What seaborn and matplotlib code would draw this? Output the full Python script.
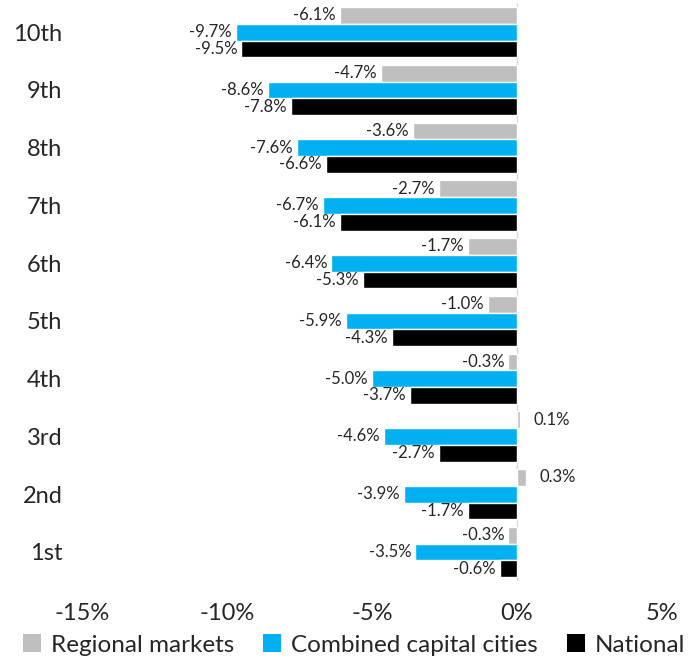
import matplotlib
matplotlib.use("Agg")
import matplotlib.pyplot as plt
import seaborn as sns
import pandas as pd
from matplotlib.patches import Patch

categories = ["10th", "9th", "8th", "7th", "6th", "5th", "4th", "3rd", "2nd", "1st"]
regional = [-6.1, -4.7, -3.6, -2.7, -1.7, -1.0, -0.3, 0.1, 0.3, -0.3]
capitals = [-9.7, -8.6, -7.6, -6.7, -6.4, -5.9, -5.0, -4.6, -3.9, -3.5]
national = [-9.5, -7.8, -6.6, -6.1, -5.3, -4.3, -3.7, -2.7, -1.7, -0.6]
series_names = ["Regional markets", "Combined capital cities", "National"]
colors = ["#BFBFBF", "#00B0F0", "#000000"]
xticks = [-15, -10, -5, 0, 5]

sns.set_style("white")
plt.rcParams["font.family"] = ["Lato", "DejaVu Sans"]

rows = []
for name, vals in zip(series_names, [regional, capitals, national]):
    for c, v in zip(categories, vals):
        rows.append({"cat": c, "series": name, "value": v})
df = pd.DataFrame(rows)

fig = plt.figure(figsize=(6.94, 6.63), dpi=100)
ax = fig.add_axes([0.118, 0.124, 0.836, 0.871])
sns.barplot(data=df, x="value", y="cat", hue="series", order=categories,
            hue_order=series_names, palette=colors, width=0.87,
            orient="h", ax=ax, legend=False, saturation=1)

ax.set_xlim(-15, 5)
ax.set_xticks(xticks)
ax.set_xticklabels([f"{t}%" for t in xticks], fontsize=17)
ax.tick_params(axis="y", labelsize=17, length=0, pad=14)
ax.tick_params(axis="x", length=0, pad=16)
ax.set_xlabel("")
ax.set_ylabel("")
for s in ax.spines.values():
    s.set_visible(False)
ax.axvline(0, color="#D9D9D9", lw=1, zorder=0)

for cont in ax.containers:
    for bar in cont:
        w = bar.get_width()
        x = bar.get_x() + w
        yc = bar.get_y() + bar.get_height() / 2
        if w >= 0:
            ax.annotate(f"{w:.1f}%", (x, yc), xytext=(10, 0), textcoords="offset points",
                        ha="left", va="center", fontsize=12)
        else:
            ax.annotate(f"{w:.1f}%", (x, yc), xytext=(-3, 0), textcoords="offset points",
                        ha="right", va="center", fontsize=12)

handles = [Patch(facecolor=c, edgecolor="none") for c in colors]
fig.legend(handles, series_names, loc="lower center", bbox_to_anchor=(0.51, -0.022),
           ncol=3, frameon=False, fontsize=17.5, handlelength=0.75, handleheight=0.75,
           handletextpad=0.4, columnspacing=1.2)

fig.savefig("out.png", dpi=100)
